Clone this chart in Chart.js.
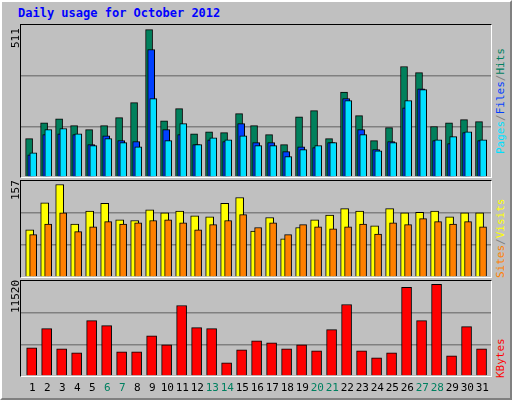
<!DOCTYPE html>
<html>
<head>
<meta charset="utf-8">
<script src="https://cdn.jsdelivr.net/npm/chart.js@4"></script>
<style>
  body { margin: 0; background: #fff; }
  #frame { position: absolute; left: 0; top: 0; width: 508px; height: 396px; background: #c0c0c0;
    border-top: 2px solid #ffffff; border-left: 2px solid #ffffff; border-right: 2px solid #808080; border-bottom: 2px solid #808080; }
  .panel { position: absolute; border-top: 1px solid #000; border-left: 1px solid #000;
    border-right: 1px solid #fff; border-bottom: 1px solid #fff; }
  .panel canvas { display: block; }
  .txt { position: absolute; font-family: "DejaVu Sans Mono", monospace; font-size: 11px; white-space: nowrap; }
  .rot { transform-origin: 0 0; transform: rotate(-90deg); }
  #title { left: 18px; top: 6px; color: #0000ff; font-weight: bold; font-size: 12px; }
</style>
</head>
<body>
<div id="frame"></div>
<div class="txt" id="title">Daily usage for October 2012</div>
<div class="panel" style="left:20px;top:24px"><canvas id="c1" width="470" height="152"></canvas></div>
<div class="panel" style="left:20px;top:180px"><canvas id="c2" width="470" height="96"></canvas></div>
<div class="panel" style="left:20px;top:280px"><canvas id="c3" width="470" height="95"></canvas></div>
<div class="txt rot" style="left:9px;top:48px">511</div>
<div class="txt rot" style="left:9px;top:200px">157</div>
<div class="txt rot" style="left:9px;top:313px">11520</div>
<div class="txt rot" style="left:494px;top:154px"><span style="color:#00e0ff">Pages</span><span style="color:#808080">/</span><span style="color:#0040ff">Files</span><span style="color:#808080">/</span><span style="color:#008060">Hits</span></div>
<div class="txt rot" style="left:494px;top:278px"><span style="color:#ff8000">Sites</span><span style="color:#808080">/</span><span style="color:#ffff00">Visits</span></div>
<div class="txt rot" style="left:494px;top:378px"><span style="color:#ff0000">KBytes</span></div>
<div id="xlabels"></div>
<script>
const days = [1,2,3,4,5,6,7,8,9,10,11,12,13,14,15,16,17,18,19,20,21,22,23,24,25,26,27,28,29,30,31];
const weekend = [6,7,13,14,20,21,27,28];
const hits = [133,188,202,178,164,178,206,258,511,195,237,150,157,154,220,178,147,112,209,230,133,294,213,126,171,383,362,175,188,199,192];
const files = [77,147,150,147,112,143,126,123,442,164,147,112,129,123,185,119,119,88,105,102,119,272,164,95,123,240,306,126,116,154,126];
const pages = [84,164,168,150,109,133,119,105,272,126,185,112,136,129,143,109,109,71,95,109,119,265,147,91,119,265,303,129,140,157,129];
const visits = [80,126,157,90,112,125,97,96,114,109,112,104,102,125,135,78,101,65,84,97,105,116,112,87,116,109,110,112,102,109,109];
const sites = [72,90,109,77,85,94,90,92,96,97,92,80,89,96,106,84,92,72,89,85,82,85,90,73,92,89,99,94,90,94,85];
const kbytes = [3545,5950,3418,2912,6963,6330,3038,3038,5063,3924,8862,6077,5950,1646,3291,4430,4177,3418,3924,3165,5823,8989,3165,2279,2912,11140,6963,11520,2532,6203,3418];

const xMin = 0.29, xMax = 31.63;

function ds(values, shift, color, thick, order) {
  return {
    data: values.map((v, i) => ({ x: days[i] + shift, y: v })),
    backgroundColor: color, borderColor: '#000', borderWidth: 1,
    barThickness: thick, grouped: false, order: order, borderSkipped: 'bottom'
  };
}

function panel(id, datasets, yMax) {
  new Chart(document.getElementById(id), {
    type: 'bar',
    data: { datasets: datasets },
    options: {
      responsive: false, animation: false,
      layout: { padding: 0 },
      plugins: { legend: { display: false }, tooltip: { enabled: false } },
      scales: {
        x: { type: 'linear', min: xMin, max: xMax, offset: false, bounds: 'ticks', display: false },
        y: {
          min: 0, max: yMax,
          ticks: { display: false, stepSize: yMax / 3 },
          border: { display: false },
          grid: { color: c => (c.index === 1 || c.index === 2) ? '#808080' : 'rgba(0,0,0,0)', lineWidth: 1.5, drawTicks: false }
        }
      }
    }
  });
}

panel('c1', [
  ds(hits, -0.17, '#00805c', 7, 3),
  ds(files, -0.03, '#0040ff', 7, 2),
  ds(pages, 0.11, '#00e0ff', 7, 1)
], 527);
panel('c2', [
  ds(visits, -0.13, '#ffff00', 8, 2),
  ds(sites, 0.1, '#ff8000', 7, 1)
], 163);
panel('c3', [
  ds(kbytes, 0, '#ff0000', 10, 1)
], 11940);

const xl = document.getElementById('xlabels');
days.forEach(d => {
  const el = document.createElement('div');
  el.className = 'txt';
  el.textContent = d;
  el.style.width = '20px';
  el.style.textAlign = 'center';
  el.style.left = (20.7 + (d - xMin) * 470 / (xMax - xMin) + 1 - 10) + 'px';
  el.style.top = '381px';
  el.style.color = weekend.includes(d) ? '#008060' : '#000';
  xl.appendChild(el);
});
</script>
</body>
</html>
